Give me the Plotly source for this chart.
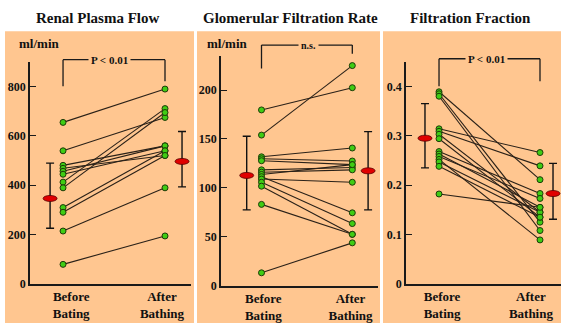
import plotly.graph_objects as go

# ---------------- data ----------------
categories = ["Before<br>Bating", "After<br>Bathing"]
panel_titles = ["Renal Plasma Flow", "Glomerular Filtration Rate", "Filtration Fraction"]
units = ["ml/min", "ml/min", ""]
p_labels = ["P < 0.01", "n.s.", "P < 0.01"]

rpf_before = [654, 539, 480, 468, 456, 444, 412, 389, 309, 290, 214, 79]
rpf_after = [789, 674, 559, 520, 559, 539, 710, 694, 539, 520, 389, 194]
rpf_mean = [346, 496]
rpf_sd_up = [143, 121]
rpf_sd_down = [121, 103]

gfr_before = [179.7, 154, 131.8, 129.8, 127.8, 118.5, 116.1, 113.8, 111.5, 109.1, 105.8, 101.8, 83.2, 13.3]
gfr_after = [202.4, 225, 140.8, 127.5, 123.8, 120.8, 118.5, 123.8, 74.6, 105.8, 63.6, 52.6, 52.6, 43.9]
gfr_mean = [112.8, 117.5]
gfr_sd_up = [40.0, 40.0]
gfr_sd_down = [35.2, 39.9]

ff_before = [0.389, 0.385, 0.380, 0.314, 0.309, 0.303, 0.294, 0.268, 0.263, 0.258, 0.252, 0.247, 0.238, 0.182]
ff_after = [0.211, 0.125, 0.108, 0.266, 0.239, 0.145, 0.135, 0.183, 0.155, 0.173, 0.089, 0.145, 0.135, 0.155]
ff_mean = [0.295, 0.183]
ff_sd_up = [0.070, 0.061]
ff_sd_down = [0.060, 0.052]

rpf_ticks = [0, 200, 400, 600, 800]
gfr_ticks = [0, 50, 100, 150, 200]
ff_ticks = [0, 0.1, 0.2, 0.3, 0.4]

# ---------------- layout geometry / style ----------------
W, H = 561, 331
ORANGE = "#FFC690"
FONT = "'Liberation Serif', 'DejaVu Serif', serif"

panels = [
    dict(bg=(5, 194), x0=30, x1=191, y0=63, y1=290, xr=[-0.324, 1.255], yr=[0, 900],
         before=rpf_before, after=rpf_after, mean=rpf_mean, up=rpf_sd_up, down=rpf_sd_down,
         ticks=rpf_ticks, mean_x=[-0.127, 1.167], title_x=97, label_pos=[0.08, 0.97],
         br=dict(top=61, lb=88, rb=83, tx=109), unit_x=17),
    dict(bg=(197, 380), x0=221, x1=378, y0=57, y1=292, xr=[-0.446, 1.283], yr=[0, 235],
         before=gfr_before, after=gfr_after, mean=gfr_mean, up=gfr_sd_up, down=gfr_sd_down,
         ticks=gfr_ticks, mean_x=[-0.163, 1.174], title_x=290, label_pos=[0.02, 0.98],
         br=dict(top=46, lb=70, rb=55, tx=308), unit_x=205),
    dict(bg=(383, 561), x0=406, x1=561, y0=63, y1=290, xr=[-0.327, 1.208], yr=[0, 0.45],
         before=ff_before, after=ff_after, mean=ff_mean, up=ff_sd_up, down=ff_sd_down,
         ticks=ff_ticks, mean_x=[-0.139, 1.129], title_x=470, label_pos=[0.03, 0.91],
         br=dict(top=60, lb=88, rb=83, tx=486), unit_x=None),
]


def fx(px):
    return px / W


def fy(py):
    return 1 - py / H


fig = go.Figure()
shapes = []
annotations = []

for i, p in enumerate(panels):
    n = "" if i == 0 else str(i + 1)
    xa, ya = "x" + n, "y" + n
    # background panel
    shapes.append(dict(type="rect", xref="paper", yref="paper", x0=fx(p["bg"][0]), x1=fx(p["bg"][1]),
                       y0=fy(330), y1=fy(32), fillcolor=ORANGE, line_width=0, layer="below"))

    # connecting lines
    lx, ly = [], []
    for b, a in zip(p["before"], p["after"]):
        lx += [0, 1, None]
        ly += [b, a, None]
    fig.add_trace(go.Scatter(x=lx, y=ly, mode="lines", xaxis=xa, yaxis=ya,
                             line=dict(color="#2a2118", width=1.1), hoverinfo="skip", showlegend=False))
    # points
    fig.add_trace(go.Scatter(x=[0] * len(p["before"]) + [1] * len(p["after"]),
                             y=list(p["before"]) + list(p["after"]), mode="markers",
                             xaxis=xa, yaxis=ya, cliponaxis=False,
                             marker=dict(size=6, color="#3fcc14", line=dict(color="#1e3a08", width=1)),
                             showlegend=False))
    # mean +/- sd
    fig.add_trace(go.Scatter(x=p["mean_x"], y=p["mean"], mode="markers", xaxis=xa, yaxis=ya,
                             marker=dict(size=1, color="rgba(0,0,0,0)"), cliponaxis=False,
                             error_y=dict(type="data", symmetric=False, array=p["up"], arrayminus=p["down"],
                                          color="#111", thickness=1.4, width=4),
                             showlegend=False))
    for mx, mv in zip(p["mean_x"], p["mean"]):
        shapes.append(dict(type="circle", xref=xa, yref=ya, xsizemode="pixel", ysizemode="pixel",
                           xanchor=mx, yanchor=mv, x0=-7, x1=7, y0=-3, y1=3,
                           fillcolor="#e00000", line=dict(color="#5a0000", width=0.8), layer="above"))

    # axes
    dom_x = [fx(p["x0"]), fx(p["x1"])]
    dom_y = [fy(p["y1"]), fy(p["y0"])]
    fig.update_layout(**{
        "xaxis" + n: dict(domain=dom_x, range=p["xr"], anchor=ya, showline=True, linecolor="#1a1a1a",
                          linewidth=1.5, showgrid=False, zeroline=False, ticks="",
                          tickvals=p["label_pos"], ticktext=["<b>%s</b>" % c for c in categories],
                          ticklabeloverflow="allow",
                          tickfont=dict(family=FONT, size=13, color="#111")),
        "yaxis" + n: dict(domain=dom_y, range=p["yr"], anchor=xa, showline=True, linecolor="#1a1a1a",
                          linewidth=1.5, showgrid=False, zeroline=False, ticks="inside", ticklen=6,
                          tickwidth=1.4, tickcolor="#1a1a1a", tickvals=p["ticks"],
                          ticktext=["<b>%g</b>" % t for t in p["ticks"]],
                          ticklabeloverflow="allow",
                          tickfont=dict(family=FONT, size=12, color="#111")),
    })

    # bracket
    def cx(v, p=p):
        return p["x0"] + (v - p["xr"][0]) / (p["xr"][1] - p["xr"][0]) * (p["x1"] - p["x0"])
    xl, xr_ = cx(0), cx(1)
    br = p["br"]
    for (ax0, ay0, ax1, ay1) in [(xl, br["lb"], xl, br["top"]), (xl, br["top"], xr_, br["top"]),
                                 (xr_, br["top"], xr_, br["rb"])]:
        shapes.append(dict(type="line", xref="paper", yref="paper", x0=fx(ax0), y0=fy(ay0),
                           x1=fx(ax1), y1=fy(ay1), line=dict(color="#1a1a1a", width=1.3), layer="above"))
    annotations.append(dict(x=fx(br["tx"]), y=fy(br["top"]), xref="paper", yref="paper",
                            text="<b>%s</b>" % p_labels[i], showarrow=False, bgcolor=ORANGE,
                            borderpad=2, xanchor="center", yanchor="middle",
                            font=dict(family=FONT, size=11 if i != 1 else 10, color="#111")))
    # title
    annotations.append(dict(x=fx(p["title_x"]), y=fy(18), xref="paper", yref="paper",
                            text="<b>%s</b>" % panel_titles[i], showarrow=False,
                            xanchor="center", yanchor="middle",
                            font=dict(family=FONT, size=15, color="#111")))
    if units[i]:
        annotations.append(dict(x=fx(p["unit_x"]), y=fy(44), xref="paper", yref="paper",
                                text="<b>%s</b>" % units[i], showarrow=False,
                                xanchor="left", yanchor="middle",
                                font=dict(family=FONT, size=13, color="#111")))

fig.update_layout(width=W, height=H, margin=dict(l=0, r=0, t=0, b=0),
                  paper_bgcolor="white", plot_bgcolor="rgba(0,0,0,0)",
                  shapes=shapes, annotations=annotations, showlegend=False)

fig.write_html("out.html", config={"displayModeBar": False},
               post_script="document.body.style.margin='0px';document.body.style.overflow='hidden';")
